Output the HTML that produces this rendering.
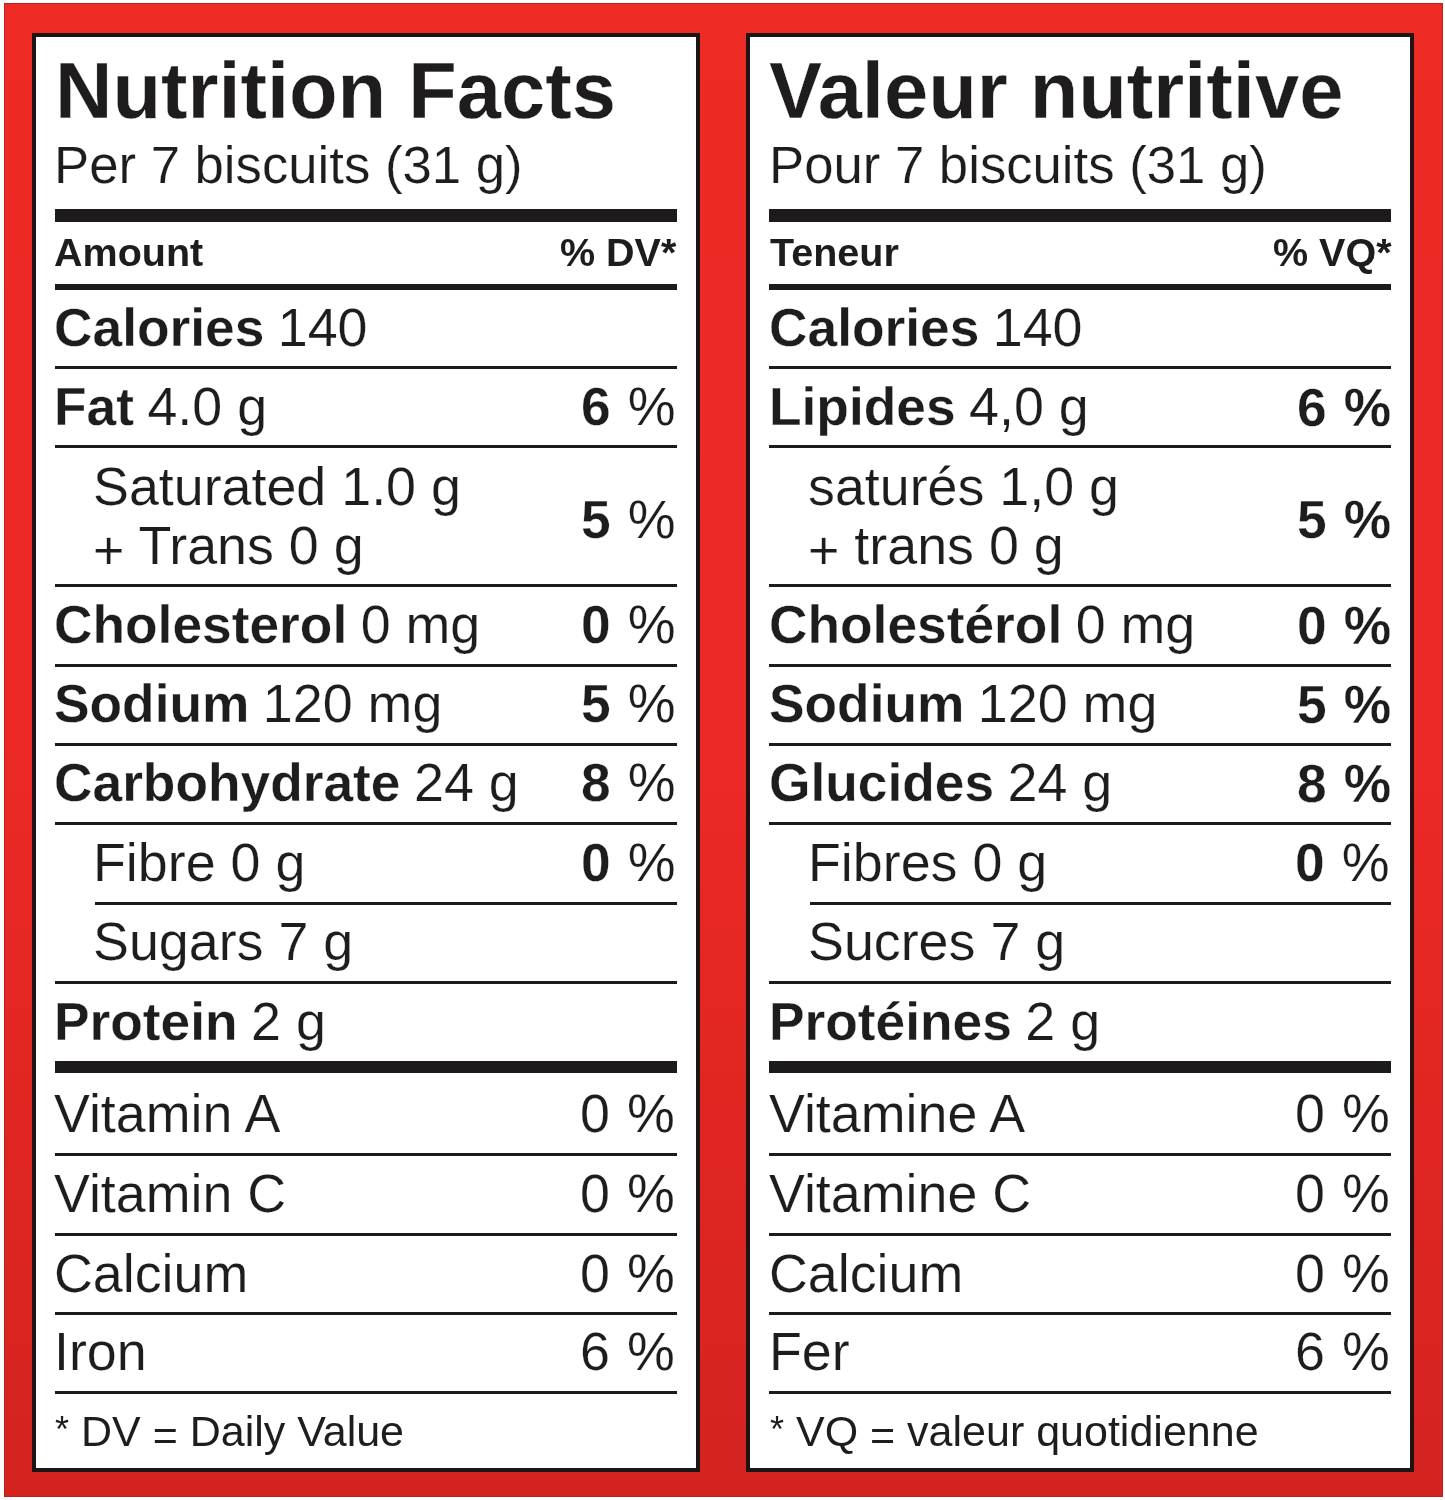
<!DOCTYPE html>
<html><head><meta charset="utf-8"><style>
html,body{margin:0;padding:0;}
body{width:1445px;height:1500px;position:relative;overflow:hidden;background:#fff;font-family:"Liberation Sans",sans-serif;color:#1f1c1d;}
.frame{position:absolute;left:3.5px;top:2.5px;width:1437px;height:1492.5px;border:1px solid rgba(175,32,28,0.75);background:linear-gradient(180deg,#ee2a25 0%,#ec2925 50%,#d4231f 100%);}
.pn{position:absolute;top:33px;width:660.5px;height:1431px;border:4px solid #1c1514;background:#fff;}
.t{position:absolute;white-space:nowrap;will-change:transform;-webkit-text-stroke:0.2px #fff;}
.t b{font-weight:700;-webkit-text-stroke:0.3px #fff;}
.ns, .ns b, .ns span{-webkit-text-stroke:0 !important;}
.r{position:absolute;background:#1d1a1b;}
.plus{position:relative;top:5px;}
.ast{font-size:36px;position:relative;top:-4.5px;}
.eq{position:relative;top:4px;}
</style></head><body>
<div class="frame"></div>
<div class="pn" style="left:31.5px"></div>
<div class="pn" style="left:745.5px"></div>
<div class="r" style="left:54.50px;top:209.20px;width:622.00px;height:13.00px"></div>
<div class="r" style="left:54.50px;top:283.80px;width:622.00px;height:6.70px"></div>
<div class="r" style="left:54.50px;top:365.50px;width:622.00px;height:3.00px"></div>
<div class="r" style="left:54.50px;top:445.30px;width:622.00px;height:3.00px"></div>
<div class="r" style="left:54.50px;top:584.30px;width:622.00px;height:3.00px"></div>
<div class="r" style="left:54.50px;top:663.70px;width:622.00px;height:3.00px"></div>
<div class="r" style="left:54.50px;top:743.00px;width:622.00px;height:3.00px"></div>
<div class="r" style="left:54.50px;top:822.20px;width:622.00px;height:3.00px"></div>
<div class="r" style="left:54.50px;top:981.20px;width:622.00px;height:3.00px"></div>
<div class="r" style="left:54.50px;top:1153.00px;width:622.00px;height:3.00px"></div>
<div class="r" style="left:54.50px;top:1232.60px;width:622.00px;height:3.00px"></div>
<div class="r" style="left:54.50px;top:1312.00px;width:622.00px;height:3.00px"></div>
<div class="r" style="left:54.50px;top:1391.20px;width:622.00px;height:3.00px"></div>
<div class="r" style="left:95.00px;top:901.70px;width:581.50px;height:3.00px"></div>
<div class="r" style="left:54.50px;top:1060.60px;width:622.00px;height:12.80px"></div>
<div class="t " style="top:51.30px;line-height:79.5px;font-size:79.5px;left:54.58px;"><b style="font-size:79.5px;">Nutrition Facts</b></div>
<div class="t " style="top:139.39px;line-height:52.7px;font-size:52.7px;left:54.48px;"><span style="font-size:52.7px;">Per 7 biscuits (31 g)</span></div>
<div class="t ns" style="top:233.26px;line-height:39.5px;font-size:39.5px;left:53.82px;"><b style="font-size:39.5px;">Amount</b></div>
<div class="t ns" style="top:233.26px;line-height:39.5px;font-size:39.5px;right:768.46px;text-align:right;"><b style="font-size:39.5px;">% DV*</b></div>
<div class="t " style="top:300.86px;line-height:53.8px;font-size:53.8px;left:54.30px;"><b style="font-size:53.3px;">Calories</b><span style="font-size:53.8px;margin-left:-1.5px;"> 140</span></div>
<div class="t " style="top:380.46px;line-height:53.8px;font-size:53.8px;left:54.30px;"><b style="font-size:53.3px;">Fat</b><span style="font-size:53.8px;margin-left:-1.5px;"> 4.0 g</span></div>
<div class="t " style="top:380.46px;line-height:53.8px;font-size:53.8px;word-spacing:2.2px;right:769.80px;text-align:right;"><b style="font-size:53.3px;">6</b><span style="font-size:53.8px;"> %</span></div>
<div class="t " style="top:459.66px;line-height:53.8px;font-size:53.8px;left:93.30px;"><span style="font-size:53.8px;">Saturated 1.0 g</span></div>
<div class="t " style="top:519.26px;line-height:53.8px;font-size:53.8px;left:93.30px;"><span style="font-size:53.8px;"><span class="plus">+</span> Trans 0 g</span></div>
<div class="t " style="top:492.76px;line-height:53.8px;font-size:53.8px;word-spacing:2.2px;right:769.80px;text-align:right;"><b style="font-size:53.3px;">5</b><span style="font-size:53.8px;"> %</span></div>
<div class="t " style="top:598.16px;line-height:53.8px;font-size:53.8px;left:54.30px;"><b style="font-size:53.3px;">Cholesterol</b><span style="font-size:53.8px;margin-left:-1.5px;"> 0 mg</span></div>
<div class="t " style="top:598.16px;line-height:53.8px;font-size:53.8px;word-spacing:2.2px;right:769.80px;text-align:right;"><b style="font-size:53.3px;">0</b><span style="font-size:53.8px;"> %</span></div>
<div class="t " style="top:677.26px;line-height:53.8px;font-size:53.8px;left:54.30px;"><b style="font-size:53.3px;">Sodium</b><span style="font-size:53.8px;margin-left:-1.5px;"> 120 mg</span></div>
<div class="t " style="top:677.26px;line-height:53.8px;font-size:53.8px;word-spacing:2.2px;right:769.80px;text-align:right;"><b style="font-size:53.3px;">5</b><span style="font-size:53.8px;"> %</span></div>
<div class="t " style="top:756.16px;line-height:53.8px;font-size:53.8px;left:54.30px;"><b style="font-size:53.3px;">Carbohydrate</b><span style="font-size:53.8px;margin-left:-1.5px;"> 24 g</span></div>
<div class="t " style="top:756.16px;line-height:53.8px;font-size:53.8px;word-spacing:2.2px;right:769.80px;text-align:right;"><b style="font-size:53.3px;">8</b><span style="font-size:53.8px;"> %</span></div>
<div class="t " style="top:836.26px;line-height:53.8px;font-size:53.8px;left:93.30px;"><span style="font-size:53.8px;">Fibre 0 g</span></div>
<div class="t " style="top:836.26px;line-height:53.8px;font-size:53.8px;word-spacing:2.2px;right:769.80px;text-align:right;"><b style="font-size:53.3px;">0</b><span style="font-size:53.8px;"> %</span></div>
<div class="t " style="top:914.76px;line-height:53.8px;font-size:53.8px;left:93.30px;"><span style="font-size:53.8px;">Sugars 7 g</span></div>
<div class="t " style="top:994.96px;line-height:53.8px;font-size:53.8px;left:54.30px;"><b style="font-size:53.3px;">Protein</b><span style="font-size:53.8px;margin-left:-1.5px;"> 2 g</span></div>
<div class="t " style="top:1087.16px;line-height:53.8px;font-size:53.8px;left:54.30px;"><span style="font-size:53.8px;">Vitamin A</span></div>
<div class="t " style="top:1087.16px;line-height:53.8px;font-size:53.8px;word-spacing:2.2px;right:769.80px;text-align:right;"><span style="font-size:53.8px;">0 %</span></div>
<div class="t " style="top:1166.76px;line-height:53.8px;font-size:53.8px;left:54.30px;"><span style="font-size:53.8px;">Vitamin C</span></div>
<div class="t " style="top:1166.76px;line-height:53.8px;font-size:53.8px;word-spacing:2.2px;right:769.80px;text-align:right;"><span style="font-size:53.8px;">0 %</span></div>
<div class="t " style="top:1246.66px;line-height:53.8px;font-size:53.8px;left:54.30px;"><span style="font-size:53.8px;">Calcium</span></div>
<div class="t " style="top:1246.66px;line-height:53.8px;font-size:53.8px;word-spacing:2.2px;right:769.80px;text-align:right;"><span style="font-size:53.8px;">0 %</span></div>
<div class="t " style="top:1325.46px;line-height:53.8px;font-size:53.8px;left:54.30px;"><span style="font-size:53.8px;">Iron</span></div>
<div class="t " style="top:1325.46px;line-height:53.8px;font-size:53.8px;word-spacing:2.2px;right:769.80px;text-align:right;"><span style="font-size:53.8px;">6 %</span></div>
<div class="t ns" style="top:1410.20px;line-height:43px;font-size:43px;left:55.30px;"><span style="font-size:43px;"><span class="ast">*</span> DV <span class="eq">=</span> Daily Value</span></div>
<div class="r" style="left:769.00px;top:209.20px;width:622.00px;height:13.00px"></div>
<div class="r" style="left:769.00px;top:283.80px;width:622.00px;height:6.70px"></div>
<div class="r" style="left:769.00px;top:365.50px;width:622.00px;height:3.00px"></div>
<div class="r" style="left:769.00px;top:445.30px;width:622.00px;height:3.00px"></div>
<div class="r" style="left:769.00px;top:584.30px;width:622.00px;height:3.00px"></div>
<div class="r" style="left:769.00px;top:663.70px;width:622.00px;height:3.00px"></div>
<div class="r" style="left:769.00px;top:743.00px;width:622.00px;height:3.00px"></div>
<div class="r" style="left:769.00px;top:822.20px;width:622.00px;height:3.00px"></div>
<div class="r" style="left:769.00px;top:981.20px;width:622.00px;height:3.00px"></div>
<div class="r" style="left:769.00px;top:1153.00px;width:622.00px;height:3.00px"></div>
<div class="r" style="left:769.00px;top:1232.60px;width:622.00px;height:3.00px"></div>
<div class="r" style="left:769.00px;top:1312.00px;width:622.00px;height:3.00px"></div>
<div class="r" style="left:769.00px;top:1391.20px;width:622.00px;height:3.00px"></div>
<div class="r" style="left:809.50px;top:901.70px;width:581.50px;height:3.00px"></div>
<div class="r" style="left:769.00px;top:1060.60px;width:622.00px;height:12.80px"></div>
<div class="t " style="top:51.30px;line-height:79.5px;font-size:79.5px;left:768.86px;"><b style="font-size:79.5px;">Valeur nutritive</b></div>
<div class="t " style="top:139.39px;line-height:52.7px;font-size:52.7px;left:768.68px;"><span style="font-size:52.7px;">Pour 7 biscuits (31 g)</span></div>
<div class="t ns" style="top:233.26px;line-height:39.5px;font-size:39.5px;left:770.16px;"><b style="font-size:39.5px;">Teneur</b></div>
<div class="t ns" style="top:233.26px;line-height:39.5px;font-size:39.5px;right:53.96px;text-align:right;"><b style="font-size:39.5px;">% VQ*</b></div>
<div class="t " style="top:300.86px;line-height:53.8px;font-size:53.8px;left:768.80px;"><b style="font-size:53.3px;">Calories</b><span style="font-size:53.8px;margin-left:-1.5px;"> 140</span></div>
<div class="t " style="top:380.46px;line-height:53.8px;font-size:53.8px;left:768.80px;"><b style="font-size:53.3px;">Lipides</b><span style="font-size:53.8px;margin-left:-1.5px;"> 4,0 g</span></div>
<div class="t " style="top:380.88px;line-height:53.3px;font-size:53.3px;word-spacing:2.2px;right:54.30px;text-align:right;"><b style="font-size:53.3px;">6 %</b></div>
<div class="t " style="top:459.66px;line-height:53.8px;font-size:53.8px;left:807.80px;"><span style="font-size:53.8px;">saturés 1,0 g</span></div>
<div class="t " style="top:519.26px;line-height:53.8px;font-size:53.8px;left:807.80px;"><span style="font-size:53.8px;"><span class="plus">+</span> trans 0 g</span></div>
<div class="t " style="top:493.18px;line-height:53.3px;font-size:53.3px;word-spacing:2.2px;right:54.30px;text-align:right;"><b style="font-size:53.3px;">5 %</b></div>
<div class="t " style="top:598.16px;line-height:53.8px;font-size:53.8px;left:768.80px;"><b style="font-size:53.3px;">Cholestérol</b><span style="font-size:53.8px;margin-left:-1.5px;"> 0 mg</span></div>
<div class="t " style="top:598.58px;line-height:53.3px;font-size:53.3px;word-spacing:2.2px;right:54.30px;text-align:right;"><b style="font-size:53.3px;">0 %</b></div>
<div class="t " style="top:677.26px;line-height:53.8px;font-size:53.8px;left:768.80px;"><b style="font-size:53.3px;">Sodium</b><span style="font-size:53.8px;margin-left:-1.5px;"> 120 mg</span></div>
<div class="t " style="top:677.68px;line-height:53.3px;font-size:53.3px;word-spacing:2.2px;right:54.30px;text-align:right;"><b style="font-size:53.3px;">5 %</b></div>
<div class="t " style="top:756.16px;line-height:53.8px;font-size:53.8px;left:768.80px;"><b style="font-size:53.3px;">Glucides</b><span style="font-size:53.8px;margin-left:-1.5px;"> 24 g</span></div>
<div class="t " style="top:756.58px;line-height:53.3px;font-size:53.3px;word-spacing:2.2px;right:54.30px;text-align:right;"><b style="font-size:53.3px;">8 %</b></div>
<div class="t " style="top:836.26px;line-height:53.8px;font-size:53.8px;left:807.80px;"><span style="font-size:53.8px;">Fibres 0 g</span></div>
<div class="t " style="top:836.26px;line-height:53.8px;font-size:53.8px;word-spacing:2.2px;right:55.30px;text-align:right;"><b style="font-size:53.3px;">0</b><span style="font-size:53.8px;"> %</span></div>
<div class="t " style="top:914.76px;line-height:53.8px;font-size:53.8px;left:807.80px;"><span style="font-size:53.8px;">Sucres 7 g</span></div>
<div class="t " style="top:994.96px;line-height:53.8px;font-size:53.8px;left:768.80px;"><b style="font-size:53.3px;">Protéines</b><span style="font-size:53.8px;margin-left:-1.5px;"> 2 g</span></div>
<div class="t " style="top:1087.16px;line-height:53.8px;font-size:53.8px;left:768.80px;"><span style="font-size:53.8px;">Vitamine A</span></div>
<div class="t " style="top:1087.16px;line-height:53.8px;font-size:53.8px;word-spacing:2.2px;right:55.30px;text-align:right;"><span style="font-size:53.8px;">0 %</span></div>
<div class="t " style="top:1166.76px;line-height:53.8px;font-size:53.8px;left:768.80px;"><span style="font-size:53.8px;">Vitamine C</span></div>
<div class="t " style="top:1166.76px;line-height:53.8px;font-size:53.8px;word-spacing:2.2px;right:55.30px;text-align:right;"><span style="font-size:53.8px;">0 %</span></div>
<div class="t " style="top:1246.66px;line-height:53.8px;font-size:53.8px;left:768.80px;"><span style="font-size:53.8px;">Calcium</span></div>
<div class="t " style="top:1246.66px;line-height:53.8px;font-size:53.8px;word-spacing:2.2px;right:55.30px;text-align:right;"><span style="font-size:53.8px;">0 %</span></div>
<div class="t " style="top:1325.46px;line-height:53.8px;font-size:53.8px;left:768.80px;"><span style="font-size:53.8px;">Fer</span></div>
<div class="t " style="top:1325.46px;line-height:53.8px;font-size:53.8px;word-spacing:2.2px;right:55.30px;text-align:right;"><span style="font-size:53.8px;">6 %</span></div>
<div class="t ns" style="top:1410.20px;line-height:43px;font-size:43px;left:769.80px;"><span style="font-size:43px;"><span class="ast">*</span> VQ <span class="eq">=</span> valeur quotidienne</span></div>
</body></html>
